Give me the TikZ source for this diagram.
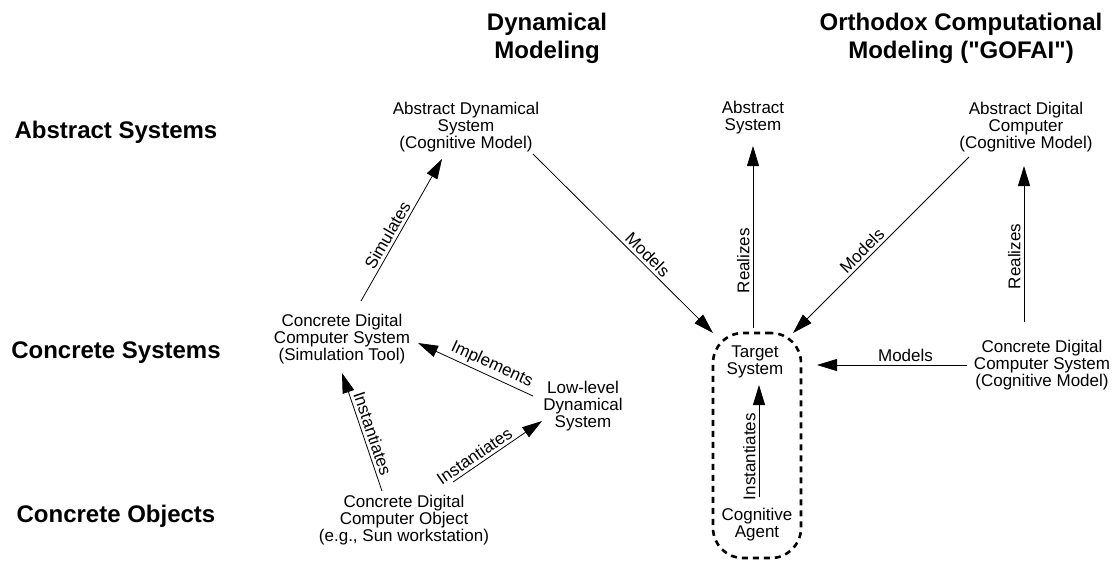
\documentclass[tikz,border=0pt]{standalone}
\usepackage{fontspec}
\setmainfont{Liberation Sans}
\newfontfamily\hv{Liberation Sans}
\usetikzlibrary{arrows.meta,calc}
\begin{document}
\begin{tikzpicture}[x=1pt,y=-1pt,
  lbl/.style={font=\hv\fontsize{17}{17}\selectfont, align=center, inner sep=0pt},
  head/.style={font=\hv\fontsize{24}{28}\selectfont\bfseries, align=center, inner sep=0pt},
  rowlbl/.style={font=\hv\fontsize{24}{28}\selectfont\bfseries, anchor=base, inner sep=0pt},
  arr/.style={-{Triangle[length=20pt,width=12pt]}, line width=0.8pt},
  elab/.style={font=\hv\fontsize{17}{17}\selectfont, sloped, above, inner sep=3pt},
  dbox/.style={draw, line width=2.6pt, dash pattern=on 6pt off 5pt, rounded corners=30pt, outer sep=0pt, inner sep=0pt}
]
\useasboundingbox (0,0) rectangle (1113,560);

% headings
\node[head] (hdyn) at (547,38) {Dynamical\\Modeling};
\node[head] (hgof) at (961,38) {Orthodox Computational\\Modeling ("GOFAI")};

% row labels
\node[rowlbl] (rabs) at (116,138) {Abstract Systems};
\node[rowlbl] (rcsys) at (116,358) {Concrete Systems};
\node[rowlbl] (rcobj) at (116,522) {Concrete Objects};

% target box
\node[dbox, minimum width=88pt, minimum height=225pt] (tbox) at (757,445.5) {};

% nodes
\node[lbl] (ads) at (466,127) {Abstract Dynamical\\System\\(Cognitive Model)};
\node[lbl] (as) at (753,118) {Abstract\\System};
\node[lbl] (adc) at (1026,127) {Abstract Digital\\Computer\\(Cognitive Model)};
\node[lbl] (cdcsL) at (342,339) {Concrete Digital\\Computer System\\(Simulation Tool)};
\node[lbl] (llds) at (583,406) {Low-level\\Dynamical\\System};
\node[lbl] (cdco) at (404,520) {Concrete Digital\\Computer Object\\(e.g., Sun workstation)};
\node[lbl] (target) at (755,362) {Target\\System};
\node[lbl] (agent) at (757,525) {Cognitive\\Agent};
\node[lbl] (cdcsR) at (1042,365) {Concrete Digital\\Computer System\\(Cognitive Model)};

% connectors
\draw[arr] ($(cdcsL)+(19,-38)$) -- node[elab,pos=0.43]{Simulates} ($(ads)+(-24,32)$);
\draw[arr] ($(ads)+(67,27)$) -- node[elab,pos=0.6]{Models} (tbox.north west);
\draw[arr] ($(as |- tbox.north)+(0,-5)$) -- node[elab,pos=0.37]{Realizes} ($(as)+(0,28)$);
\draw[arr] ($(adc)+(-57,30)$) -- node[elab,pos=0.57]{Models} ($(tbox.north east)+(-8,0)$);
\draw[arr] ($(cdcsR)+(-18,-43)$) -- node[elab,pos=0.42]{Realizes} ($(adc)+(-2,39)$);
\draw[arr] ($(cdcsR)+(-75,0)$) -- node[elab,pos=0.41]{Models} ($(target)+(62,3)$);
\draw[arr] ($(llds)+(-50,-10)$) -- node[elab,pos=0.4]{Implements} ($(cdcsL)+(76,4)$);
\draw[arr] ($(cdco)+(-22,-29)$) -- node[elab,pos=0.46]{Instantiates} ($(cdcsL)+(0,34)$);
\draw[arr] ($(cdco)+(49,-38)$) -- node[elab,pos=0.3]{Instantiates} ($(llds)+(-41,15)$);
\draw[arr] ($(agent)+(2,-28)$) -- node[elab,pos=0.36]{Instantiates} ($(target)+(4,23)$);
\end{tikzpicture}
\end{document}
